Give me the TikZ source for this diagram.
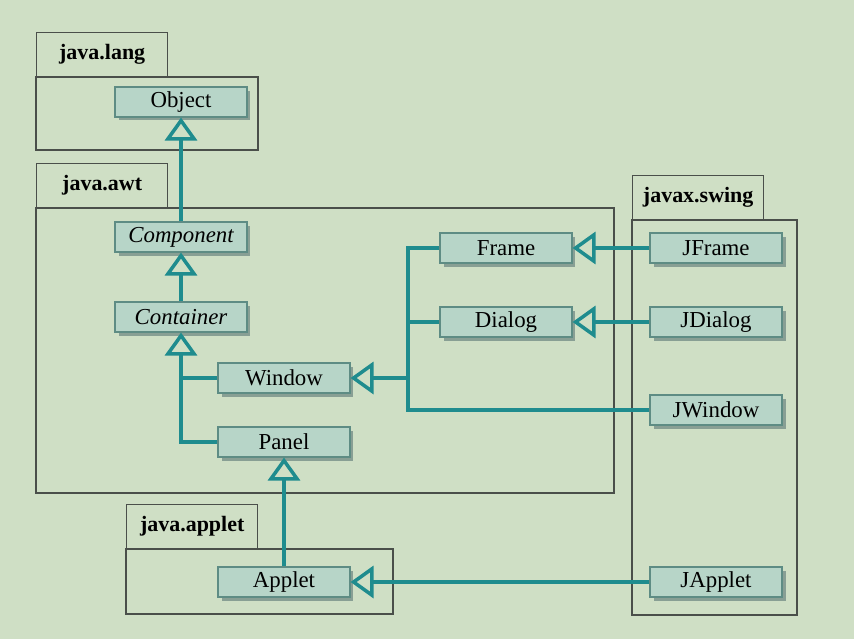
\documentclass[tikz,border=0pt]{standalone}
\usepackage{fontspec}
\setmainfont{Liberation Serif}
\usetikzlibrary{arrows.meta,shadows}

\definecolor{bgcol}{HTML}{CFDFC5}
\definecolor{clsfill}{HTML}{B7D5C8}
\definecolor{clsline}{HTML}{5E8C84}
\definecolor{shadowcol}{HTML}{889F94}
\definecolor{pkgline}{HTML}{4A4F4A}
\definecolor{connline}{HTML}{1F8C8E}

\begin{document}
\begin{tikzpicture}[
      x=0.02cm, y=-0.02cm,
      cls/.style={rectangle,draw=clsline,fill=clsfill,line width=0.6pt,minimum width=2.64cm,minimum height=0.6cm,inner sep=0pt,
        font=\fontsize{13}{15}\selectfont,
        drop shadow={shadow xshift=0.07cm,shadow yshift=-0.07cm,fill=shadowcol,opacity=1}},
      abs/.style={cls,font=\fontsize{13}{15}\selectfont\itshape},
      tab/.style={rectangle,draw=pkgline,line width=0.8pt,minimum width=2.62cm,minimum height=0.88cm,anchor=south west,
        font=\fontsize{12.5}{15}\selectfont\bfseries},
      pkg/.style={draw=pkgline,line width=0.8pt},
      conn/.style={draw=connline,line width=2pt},
      inh/.style={conn,-{Triangle[open,length=0.46cm,width=0.64cm]}}
    ]
    \fill[bgcol] (0,0) rectangle (854,639);
    \useasboundingbox (0,0) rectangle (854,639);

    % Packages
    \draw[pkg] (36,77) rectangle (258,150);
    \node[tab] (lang) at (36,77) {java.lang};
    \draw[pkg] (36,208) rectangle (614,493);
    \node[tab] (awt) at (36,208) {java.awt};
    \draw[pkg] (632,220) rectangle (797,615);
    \node[tab] (swing) at (632,220) {javax.swing};
    \draw[pkg] (126,549) rectangle (393,614);
    \node[tab] (applet) at (126,549) {java.applet};

    % Classes in java.lang and java.awt
    \node[cls] (Object) at (181,102) {Object};
    \node[abs] (Component) at (181,237) {Component};
    \node[abs] (Container) at (181,317) {Container};
    \node[cls] (Window) at (284,378) {Window};
    \node[cls] (Panel) at (284,442) {Panel};
    \node[cls] (Frame) at (506,248) {Frame};
    \node[cls] (Dialog) at (506,322) {Dialog};
    \node[cls] (Applet) at (284,582) {Applet};

    % Classes in javax.swing
    \node[cls] (JFrame) at (716,248) {JFrame};
    \node[cls] (JDialog) at (716,322) {JDialog};
    \node[cls] (JWindow) at (716,410) {JWindow};
    \node[cls] (JApplet) at (716,582) {JApplet};

    % Inheritance
    \draw[inh] (Component) -- (Object);
    \draw[inh] (Container) -- (Component);
    \draw[inh] (Panel.west) -| (Container.south);
    \draw[conn] (Window.west) -- (Window.west -| Container.south);
    \draw[inh] (Applet) -- (Panel);

    \coordinate (bus) at (408,248);
    \draw[conn] (Frame.west) -- (Frame.west -| bus) |- (JWindow.west);
    \draw[conn] (Dialog.west) -- (Dialog.west -| bus);
    \draw[inh] (Window.east -| bus) -- (Window.east);

    \draw[inh] (JFrame) -- (Frame);
    \draw[inh] (JDialog) -- (Dialog);
    \draw[inh] (JApplet) -- (Applet);

  \end{tikzpicture}
\end{document}
